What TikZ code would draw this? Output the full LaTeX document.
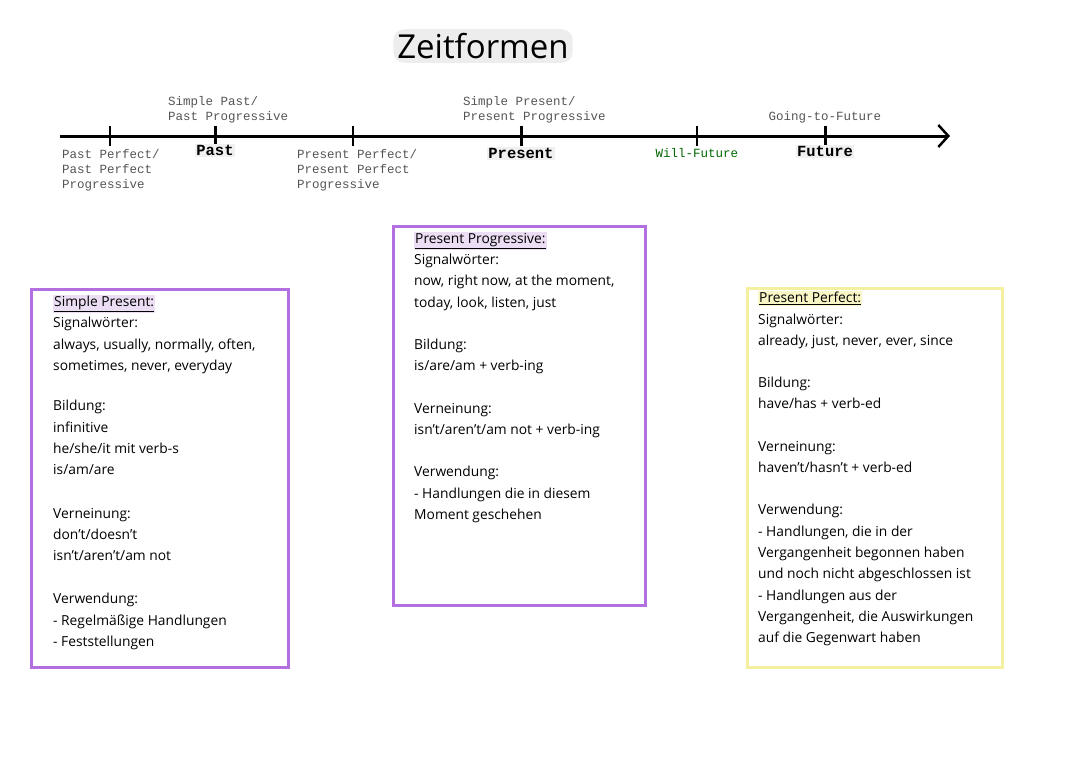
\documentclass[tikz,border=0pt]{standalone}
\usepackage{fontspec}
\setmainfont{Open Sans}
\newfontfamily\monofont{Liberation Mono}
\usetikzlibrary{arrows.meta,positioning}
\definecolor{boxviolet}{HTML}{B36EE0}
\definecolor{boxyellow}{HTML}{F5F0A0}
\definecolor{hilite}{HTML}{EBDDF3}
\definecolor{labelgray}{HTML}{555555}
\setlength{\fboxsep}{1pt}
\tikzset{
    boxtext/.style={anchor=north west, align=left, font=\fontsize{13.8}{21.3}\selectfont, inner sep=0pt},
    tlabel/.style={font=\monofont\fontsize{12.5}{15}\selectfont, text=labelgray, align=left, inner sep=1pt},
    tname/.style={font=\monofont\bfseries\fontsize{15.5}{16}\selectfont, fill=black!6, inner sep=1pt}
}
\newcommand{\hd}[1]{\underline{#1}}
\begin{document}
\begin{tikzpicture}[x=1pt,y=-1pt]
    \useasboundingbox[fill=white] (0,0) rectangle (1080,763);
    % Title
    \node[fill=black!7, rounded corners=11pt, inner sep=4pt, font=\fontsize{33}{35}\selectfont] (title) at (483,46) {Zeitformen};
    % Timeline
    \coordinate (tlstart) at (60,136);
    \coordinate (tlend) at (950,136);
    \draw[line width=3pt, -{Straight Barb[length=10pt,width=22pt,line width=2.5pt]}] (tlstart) -- (tlend);
    \foreach \x/\n/\w in {110/a/1.5pt,215/b/3pt,353/c/1.5pt,521/d/3pt,697/e/1.5pt,825/f/3pt} {
            \coordinate (T\n) at (\x,136);
            \draw[line width=\w] (\x,126) -- (\x,146);
        }
    % Labels
    \node[tlabel, anchor=north west] (ppf) at (61,148) {Past Perfect/\\Past Perfect\\Progressive};
    \node[tname, below=8pt of Tb] (past) {Past};
    \node[tlabel, anchor=south west] (sp) at (167,124) {Simple Past/\\Past Progressive};
    \node[tlabel, anchor=north west] (prpf) at (296,148) {Present Perfect/\\Present Perfect\\Progressive};
    \node[tname, below=11pt of Td] (present) {Present};
    \node[tlabel, anchor=south west] (spres) at (462,124) {Simple Present/\\Present Progressive};
    \node[tlabel, text=green!40!black, below=11pt of Te] (will) {Will-Future};
    \node[tname, below=9pt of Tf] (future) {Future};
    \node[tlabel, above=12pt of Tf] (goto) {Going-to-Future};
    % Boxes
    \draw[boxviolet, line width=3pt] (31,289) rectangle (288,667);
    \draw[boxviolet, line width=3pt] (393,226) rectangle (645,605);
    \draw[boxyellow, line width=3pt] (747,288) rectangle (1002,667);
    % Box texts
    \node[boxtext] (simplepresent) at (53,295) {\colorbox{hilite}{\hd{Simple Present:}}\\Signalwörter:\\always, usually, normally, often,\\sometimes, never, everyday\\[19pt]Bildung:\\infinitive\\he/she/it mit verb-s\\is/am/are\\[22pt]Verneinung:\\don't/doesn't\\isn't/aren't/am not\\[22pt]Verwendung:\\- Regelmäßige Handlungen\\- Feststellungen};
    \node[boxtext] (presentprog) at (414,232) {\colorbox{hilite}{\hd{Present Progressive:}}\\Signalwörter:\\now, right now, at the moment,\\today, look, listen, just\\[21pt]Bildung:\\is/are/am + verb-ing\\[21pt]Verneinung:\\isn't/aren't/am not + verb-ing\\[21pt]Verwendung:\\- Handlungen die in diesem\\Moment geschehen};
    \node[boxtext] (presentperf) at (758,291) {\colorbox{boxyellow!60}{\hd{Present Perfect:}}\\Signalwörter:\\already, just, never, ever, since\\[21pt]Bildung:\\have/has + verb-ed\\[21pt]Verneinung:\\haven't/hasn't + verb-ed\\[21pt]Verwendung:\\- Handlungen, die in der\\Vergangenheit begonnen haben\\und noch nicht abgeschlossen ist\\- Handlungen aus der\\Vergangenheit, die Auswirkungen\\auf die Gegenwart haben};
\end{tikzpicture}
\end{document}
